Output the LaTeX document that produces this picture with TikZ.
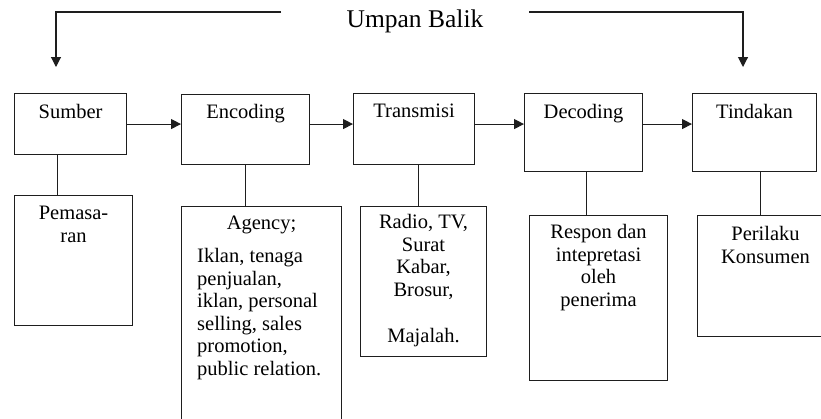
\documentclass[tikz,border=0pt]{standalone}
\usepackage{fontspec}
\setmainfont{Liberation Serif}
\usepackage{tikz}
\usetikzlibrary{positioning,calc,arrows.meta}
\definecolor{GarisGelap}{RGB}{30,30,30}
\tikzset{
    kotak/.style={rectangle, draw=GarisGelap, line width=1.1pt, anchor=north west, inner sep=0pt},
    teks/.style={anchor=north, inner sep=0pt, align=center, text=black, font=\fontsize{20.5}{22.6}\selectfont},
    garis/.style={draw=GarisGelap, line width=1.1pt}
}

\begin{document}
\begin{tikzpicture}[
                x=1pt, y=-1pt,
                panah/.style={garis, -{Triangle[length=10pt, width=10pt]}}
            ]
                \useasboundingbox (0,0) rectangle (821,418);
                % Baris atas
                \node[kotak, minimum width=112, minimum height=61] (sumber) at (14,93) {};
                \node[kotak, minimum width=128, minimum height=70] (encoding) at (181,94) {};
                \node[kotak, minimum width=121, minimum height=71] (transmisi) at (353,93) {};
                \node[kotak, minimum width=118, minimum height=78] (decoding) at (524,93) {};
                \node[kotak, minimum width=124, minimum height=78] (tindakan) at (692,93) {};
                \node[teks, yshift=-11pt] (sumberTeks) at (sumber.north) {Sumber};
                \node[teks, yshift=-10pt] (encodingTeks) at (encoding.north) {Encoding};
                \node[teks, yshift=-11pt] (transmisiTeks) at (transmisi.north) {Transmisi};
                \node[teks, yshift=-11pt] (decodingTeks) at (decoding.north) {Decoding};
                \node[teks, yshift=-11pt] (tindakanTeks) at (tindakan.north) {Tindakan};
                % Baris bawah
                \node[kotak, minimum width=118, minimum height=130] (pemasaran) at (14,195) {};
                \node[kotak, minimum width=160, minimum height=224] (agency) at (181,206) {};
                \node[kotak, minimum width=126, minimum height=150] (media) at (360,206) {};
                \node[kotak, minimum width=138, minimum height=165] (respon) at (529,215) {};
                \node[kotak, minimum width=136, minimum height=121] (perilaku) at (697,215) {};
                \node[teks, yshift=-11pt] (pemasaranTeks) at (pemasaran.north) {Pemasa-\\ran};
                \node[teks, yshift=-10pt] (agencyJudul) at (agency.north) {Agency;};
                \node[teks, align=left, anchor=north west, xshift=16pt, yshift=-42pt] (agencyIsi) at (agency.north west)
                    {Iklan, tenaga\\penjualan,\\iklan, personal\\selling, sales\\promotion,\\public relation.};
                \node[teks, yshift=-8pt] (mediaTeks) at (media.north) {Radio, TV,\\Surat\\Kabar,\\Brosur,\\[24pt]Majalah.};
                \node[teks, yshift=-9pt] (responTeks) at (respon.north) {Respon dan\\intepretasi\\oleh\\penerima};
                \node[teks, yshift=-11pt] (perilakuTeks) at (perilaku.north) {Perilaku\\Konsumen};
                % Panah alur
                \draw[panah] (sumber.east) -- (sumber.east -| encoding.west);
                \draw[panah] (encoding.east |- sumber.east) -- (sumber.east -| transmisi.west);
                \draw[panah] (transmisi.east |- sumber.east) -- (sumber.east -| decoding.west);
                \draw[panah] (decoding.east |- sumber.east) -- (sumber.east -| tindakan.west);
                % Garis penghubung
                \coordinate (g1) at ([xshift=-13pt]sumber.south);
                \coordinate (g2) at (encoding.south);
                \coordinate (g3) at ([xshift=4.5pt]transmisi.south);
                \coordinate (g4) at ([xshift=3pt]decoding.south);
                \coordinate (g5) at ([xshift=6pt]tindakan.south);
                \draw[garis] (g1) -- (g1 |- pemasaran.north);
                \draw[garis] (g2) -- (g2 |- agency.north);
                \draw[garis] (g3) -- (g3 |- media.north);
                \draw[garis] (g4) -- (g4 |- respon.north);
                \draw[garis] (g5) -- (g5 |- perilaku.north);
                % Umpan balik
                \node[teks, anchor=center, font=\fontsize{25.5}{28}\selectfont] (umpan) at (415,21) {Umpan Balik};
                \coordinate (ubKiri) at (281,12);
                \coordinate (ubKanan) at (529,12);
                \coordinate (ujungKiri) at (56,67);
                \coordinate (ujungKanan) at (743,67);
                \draw[panah] (ubKiri) -| (ujungKiri);
                \draw[panah] (ubKanan) -| (ujungKanan);
            \end{tikzpicture}
\end{document}
